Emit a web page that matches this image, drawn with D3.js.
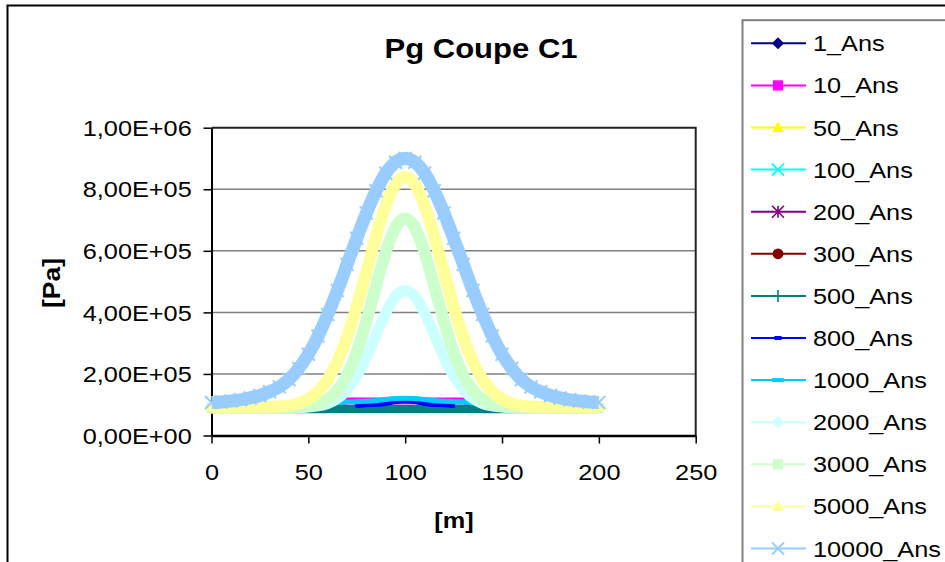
<!DOCTYPE html>
<html>
<head>
<meta charset="utf-8">
<script src="https://cdn.jsdelivr.net/npm/d3@7"></script>
<style>
  body { margin: 0; background: #fff; }
  text { font-family: "Liberation Sans", Arial, sans-serif; fill: #000; }
</style>
</head>
<body>
<svg id="chart" width="945" height="562"></svg>
<script>
// ---- data ----
var xm = [0, 5, 10, 15, 20, 25, 30, 35, 40, 45, 50, 55, 60, 65, 70, 75, 80, 85, 90, 95, 100,
    105, 110, 115, 120, 125, 130, 135, 140, 145, 150, 155, 160, 165, 170, 175, 180, 185, 190, 195, 200];

var names = ["1_Ans", "10_Ans", "50_Ans", "100_Ans", "200_Ans", "300_Ans", "500_Ans",
    "800_Ans", "1000_Ans", "2000_Ans", "3000_Ans", "5000_Ans", "10000_Ans"];

var p1 = [84000, 84000, 84000, 84000, 84000, 84000, 84000, 84000, 84000, 84000, 84000, 84000, 84000, 85000,
    88000, 88000, 88000, 88000, 88000, 88000, 88000, 88000, 88000, 88000, 88000, 88000, 88000,
    85000, 84000, 84000, 84000, 84000, 84000, 84000, 84000, 84000, 84000, 84000, 84000, 84000, 84000];
var p10 = [84000, 84000, 84000, 84000, 84000, 84000, 84000, 84000, 84000, 84000, 84000, 84000, 84000, 95000,
    112000, 112000, 112000, 112000, 112000, 112000, 112000, 112000, 112000, 112000, 112000, 112000, 112000,
    95000, 84000, 84000, 84000, 84000, 84000, 84000, 84000, 84000, 84000, 84000, 84000, 84000, 84000];
var p50 = [85000, 85000, 85000, 85000, 85000, 85000, 85000, 85000, 85000, 85000, 85000, 85000, 85000, 86000,
    89000, 89000, 89000, 89000, 89000, 89000, 89000, 89000, 89000, 89000, 89000, 89000, 89000,
    86000, 85000, 85000, 85000, 85000, 85000, 85000, 85000, 85000, 85000, 85000, 85000, 85000, 85000];
var p100 = [85000, 85000, 85000, 85000, 85000, 85000, 85000, 85000, 85000, 85000, 85000, 85000, 85000, 86000,
    89000, 89000, 89000, 89000, 89000, 89000, 89000, 89000, 89000, 89000, 89000, 89000, 89000,
    86000, 85000, 85000, 85000, 85000, 85000, 85000, 85000, 85000, 85000, 85000, 85000, 85000, 85000];
var p200 = [84000, 84000, 84000, 84000, 84000, 84000, 84000, 84000, 84000, 84000, 84000, 84000, 84000, 85000,
    88000, 88000, 88000, 88000, 88000, 88000, 88000, 88000, 88000, 88000, 88000, 88000, 88000,
    85000, 84000, 84000, 84000, 84000, 84000, 84000, 84000, 84000, 84000, 84000, 84000, 84000, 84000];
var p300 = [84000, 84000, 84000, 84000, 84000, 84000, 84000, 84000, 84000, 84000, 84000, 84000, 84000, 85000,
    88000, 88000, 88000, 88000, 88000, 88000, 88000, 88000, 88000, 88000, 88000, 88000, 88000,
    85000, 84000, 84000, 84000, 84000, 84000, 84000, 84000, 84000, 84000, 84000, 84000, 84000, 84000];
var p500 = [86000, 86000, 86000, 86000, 86000, 86000, 86000, 86000, 86000, 86000, 86000, 86000, 86000, 86000,
    86000, 86000, 86000, 86000, 86000, 86000, 86000, 86000, 86000, 86000, 86000, 86000, 86000,
    86000, 86000, 86000, 86000, 86000, 86000, 86000, 86000, 86000, 86000, 86000, 86000, 86000, 86000];
var p800 = [null, null, null, null, null, null, null, null, null, null, null, null, null, null, null,
    97000, 100000, 101000, 104000, 110000, 113000, 110000, 104000, 101000, 100000, 97000,
    null, null, null, null, null, null, null, null, null, null, null, null, null, null, null];
var p1000 = [null, null, null, null, null, null, null, null, null, null, null, null,
    102000, 106000, 109000, 110000, 111000, 113000, 117000, 120000, 121000,
    120000, 117000, 113000, 111000, 110000, 109000, 106000, 102000,
    null, null, null, null, null, null, null, null, null, null, null, null];
var p2000 = [90000, 90000, 90000, 90000, 90000, 90000, 90000, 90000, 90000, 91000, 93000, 96000, 104000, 120000,
    149000, 194000, 255000, 328000, 399000, 451000, 470000, 451000, 399000, 328000, 255000, 194000, 149000,
    120000, 104000, 96000, 93000, 91000, 90000, 90000, 90000, 90000, 90000, 90000, 90000, 90000, 90000];
var p3000 = [90000, 90000, 90000, 90000, 90000, 90000, 90000, 90000, 90000, 92000, 95000, 102000, 117000, 146000,
    196000, 271000, 372000, 486000, 596000, 676000, 705000, 676000, 596000, 486000, 372000, 271000, 196000,
    146000, 117000, 102000, 95000, 92000, 90000, 90000, 90000, 90000, 90000, 90000, 90000, 90000, 90000];
var p5000 = [92000, 92000, 92000, 92000, 92000, 92000, 93000, 94000, 97000, 104000, 118000, 142000, 182000, 240000,
    320000, 420000, 533000, 648000, 748000, 816000, 840000, 816000, 748000, 648000, 533000, 420000, 320000,
    240000, 182000, 142000, 118000, 104000, 97000, 94000, 93000, 92000, 92000, 92000, 92000, 92000, 92000];
var p10000 = [107000, 109000, 112000, 116000, 122000, 130000, 142000, 158000, 182000, 218000, 264000, 323000, 393000, 471000,
    556000, 641000, 723000, 795000, 852000, 888000, 900000, 888000, 852000, 795000, 723000, 641000, 556000,
    471000, 393000, 323000, 264000, 218000, 182000, 158000, 142000, 130000, 122000, 116000, 112000, 109000, 107000];

var seriesValues = [p1, p10, p50, p100, p200, p300, p500, p800, p1000, p2000, p3000, p5000, p10000];

var yTicks = [0, 200000, 400000, 600000, 800000, 1000000];
var xTicks = [0, 50, 100, 150, 200, 250];

// ---- styles ----
var colors = ["#000080", "#FF00FF", "#FFFF00", "#00FFFF", "#800080", "#800000", "#008080",
    "#0000FF", "#00CCFF", "#CCFFFF", "#CCFFCC", "#FFFF99", "#99CCFF"];
var symbols = ["diamond", "square", "triangle", "x", "star", "circle", "plus",
    "dash", "longdash", "diamond", "square", "triangle", "x"];
var bandWidth = [6, 7, 6, 6, 6, 6, 8, 5, 5, 11, 12, 12, 13];

var SX = 1.15; // the original text is a little stretched horizontally

var svg = d3.select("#chart");

var x = d3.scaleLinear().domain([0, 250]).range([211.5, 695.7]);
var y = d3.scaleLinear().domain([0, 1000000]).range([435.5, 127.7]);

function fmtSci(v) {
    if (v === 0) return "0,00E+00";
    var e = Math.floor(Math.log10(v));
    var m = v / Math.pow(10, e);
    return m.toFixed(2).replace(".", ",") + "E+" + (e < 10 ? "0" + e : e);
}

function drawMarker(g, type, color, s) {
    var h = s / 2;
    if (type === "diamond") {
        g.append("path").attr("d", "M0," + (-h) + "L" + h + ",0L0," + h + "L" + (-h) + ",0Z").attr("fill", color);
    } else if (type === "square") {
        g.append("rect").attr("x", -h * 0.85).attr("y", -h * 0.85).attr("width", s * 0.85).attr("height", s * 0.85).attr("fill", color);
    } else if (type === "triangle") {
        g.append("path").attr("d", "M0," + (-h) + "L" + h + "," + (h * 0.75) + "L" + (-h) + "," + (h * 0.75) + "Z").attr("fill", color);
    } else if (type === "x") {
        g.append("path").attr("d", "M" + (-h) + "," + (-h) + "L" + h + "," + h + "M" + (-h) + "," + h + "L" + h + "," + (-h))
            .attr("stroke", color).attr("stroke-width", 2).attr("fill", "none");
    } else if (type === "star") {
        g.append("path").attr("d", "M" + (-h) + "," + (-h) + "L" + h + "," + h + "M" + (-h) + "," + h + "L" + h + "," + (-h) + "M0," + (-h) + "L0," + h)
            .attr("stroke", color).attr("stroke-width", 1.6).attr("fill", "none");
    } else if (type === "circle") {
        g.append("circle").attr("r", h * 0.9).attr("fill", color);
    } else if (type === "plus") {
        g.append("path").attr("d", "M0," + (-h) + "L0," + h + "M" + (-h) + ",0L" + h + ",0")
            .attr("stroke", color).attr("stroke-width", 1.6).attr("fill", "none");
    } else if (type === "dash") {
        g.append("rect").attr("x", -s * 0.3).attr("y", -2).attr("width", s * 0.6).attr("height", 4).attr("fill", color);
    } else if (type === "longdash") {
        g.append("rect").attr("x", -h).attr("y", -2).attr("width", s).attr("height", 4).attr("fill", color);
    }
}

function label(str, tx, ty, size, anchor, weight, rot) {
    return svg.append("text")
        .attr("transform", "translate(" + tx + "," + ty + ")" + (rot ? " rotate(" + rot + ")" : "") + " scale(" + SX + ",1)")
        .attr("text-anchor", anchor)
        .attr("font-size", size)
        .attr("font-weight", weight)
        .text(str);
}

// chart frame
svg.append("rect")
    .attr("x", 7.5).attr("y", 5.5).attr("width", 1100).attr("height", 700)
    .attr("fill", "#fff").attr("stroke", "#000").attr("stroke-width", 2);

// gridlines
svg.append("g")
    .selectAll("line")
    .data(yTicks.filter(function (v) { return v > 0 && v < 1000000; }))
    .join("line")
    .attr("x1", x(0)).attr("x2", x(250))
    .attr("y1", function (d) { return y(d); })
    .attr("y2", function (d) { return y(d); })
    .attr("stroke", "#808080").attr("stroke-width", 1.5);

// plot area border (top, right)
svg.append("path")
    .attr("d", "M" + x(0) + "," + y(1000000) + "H" + x(250) + "V" + y(0))
    .attr("fill", "none").attr("stroke", "#222").attr("stroke-width", 2);

// axes
var yAxis = svg.append("g")
    .attr("transform", "translate(" + x(0) + ",0)")
    .call(d3.axisLeft(y).tickValues(yTicks).tickFormat(fmtSci).tickSize(8).tickSizeOuter(0));
yAxis.select(".domain").attr("stroke", "#000").attr("stroke-width", 2);
yAxis.selectAll(".tick line").attr("stroke", "#000").attr("stroke-width", 1.5);
yAxis.selectAll("text")
    .attr("x", -19.8 / SX)
    .attr("dy", "0.35em")
    .attr("transform", "scale(" + SX + ",1)")
    .attr("font-size", 22)
    .attr("font-family", "Liberation Sans, Arial, sans-serif");

var xAxis = svg.append("g")
    .attr("transform", "translate(0," + y(0) + ")")
    .call(d3.axisBottom(x).tickValues(xTicks).tickFormat(d3.format("d")).tickSize(8).tickSizeOuter(0));
xAxis.select(".domain").attr("stroke", "#000").attr("stroke-width", 2.5);
xAxis.selectAll(".tick line").attr("stroke", "#000").attr("stroke-width", 1.5);
xAxis.selectAll("text")
    .attr("y", 45)
    .attr("dy", null)
    .attr("transform", "scale(" + SX + ",1)")
    .attr("font-size", 22)
    .attr("font-family", "Liberation Sans, Arial, sans-serif");

// series
var line = d3.line()
    .defined(function (d) { return d.v != null; })
    .x(function (d) { return x(d.m); })
    .y(function (d) { return y(d.v); })
    .curve(d3.curveMonotoneX);

var plot = svg.append("g").attr("id", "series");
seriesValues.forEach(function (vals, k) {
    var pts = xm.map(function (m, i) { return { m: m, v: vals[i] }; });
    var g = plot.append("g").attr("class", "serie");
    g.append("path")
        .datum(pts)
        .attr("d", line)
        .attr("fill", "none")
        .attr("stroke", colors[k])
        .attr("stroke-width", bandWidth[k])
        .attr("stroke-linejoin", "round");
    g.selectAll("g.mk")
        .data(pts.filter(function (d) { return d.v != null; }))
        .join("g")
        .attr("class", "mk")
        .attr("transform", function (d) { return "translate(" + x(d.m) + "," + y(d.v) + ")"; })
        .each(function () { drawMarker(d3.select(this), symbols[k], colors[k], bandWidth[k]); });
});

// titles
label("Pg Coupe C1", 481, 58, 27, "middle", "bold");
label("[m]", 454, 528, 22, "middle", "bold");
label("[Pa]", 60, 283, 23, "middle", "bold", -90);

// legend
var legend = svg.append("g").attr("id", "legend");
legend.append("rect")
    .attr("x", 742.5).attr("y", 20.2).attr("width", 400).attr("height", 700)
    .attr("fill", "#fff").attr("stroke", "#808080").attr("stroke-width", 2);

var legendY = d3.scaleLinear().domain([0, 12]).range([43.3, 548.5]);
names.forEach(function (name, k) {
    var ly = legendY(k);
    legend.append("line")
        .attr("x1", 751).attr("x2", 806)
        .attr("y1", ly).attr("y2", ly)
        .attr("stroke", colors[k]).attr("stroke-width", 2);
    var mg = legend.append("g").attr("transform", "translate(778," + ly + ")");
    drawMarker(mg, symbols[k], colors[k], 12);
    legend.append("text")
        .attr("transform", "translate(813," + (ly + 8) + ") scale(" + SX + ",1)")
        .attr("font-size", 22)
        .text(name);
});
</script>
</body>
</html>
